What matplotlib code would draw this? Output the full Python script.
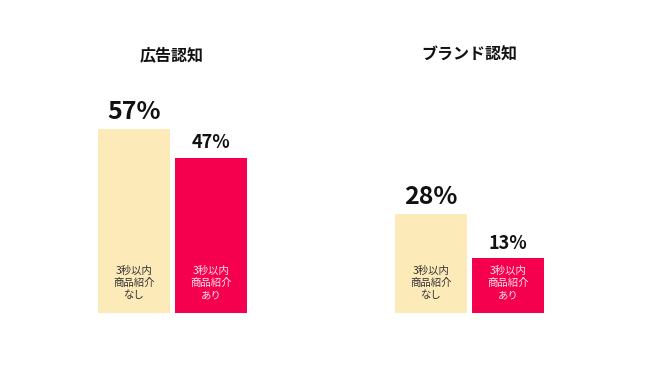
import matplotlib.pyplot as plt

plt.rcParams['font.family'] = ['Noto Sans CJK JP', 'DejaVu Sans']

# data
titles = ["広告認知", "ブランド認知"]
values = [[57, 47], [28, 13]]
bar_labels = ["3秒以内\n商品紹介\nなし", "3秒以内\n商品紹介\nあり"]
bar_colors = ["#FDEAB9", "#F5004F"]
text_colors = ["#333333", "#FFE3EC"]
value_sizes = [18, 13]

W, H = 650, 365
fig = plt.figure(figsize=(W / 100, H / 100), dpi=100)
fig.patch.set_facecolor("white")

px_per_unit = 2.95
base = 5.5          # bars start a bit below zero, as in the original design
bottom_px = 313
ax_h = 240
lefts = [98, 395]
bw = 72 / 77.5

for i in range(2):
    ax = fig.add_axes([lefts[i] / W, (H - bottom_px) / H, 149 / W, ax_h / H])
    ax.set_xlim(-bw / 2, 1 + bw / 2)
    ax.set_ylim(-base, ax_h / px_per_unit - base)
    ax.axis("off")
    bars = ax.bar([0, 1], [v + base for v in values[i]], bottom=-base,
                  width=bw, color=bar_colors)
    for j, b in enumerate(bars):
        v = values[i][j]
        cx = b.get_x() + b.get_width() / 2
        ax.annotate(f"{v}%", (cx, v), xytext=(0, 7), textcoords="offset points",
                    ha="center", va="baseline", fontsize=value_sizes[j],
                    fontweight="bold", color="#111111")
        ax.text(cx, (313 - 283) / px_per_unit - base, bar_labels[j],
                ha="center", va="center", fontsize=7.5, linespacing=1.3,
                color=text_colors[j])
    fig.text((lefts[i] + 74) / W, 1 - 55 / H, titles[i], ha="center",
             va="center", fontsize=11.5, fontweight="bold", color="#111111")

fig.savefig("out.png", dpi=100, facecolor="white")
